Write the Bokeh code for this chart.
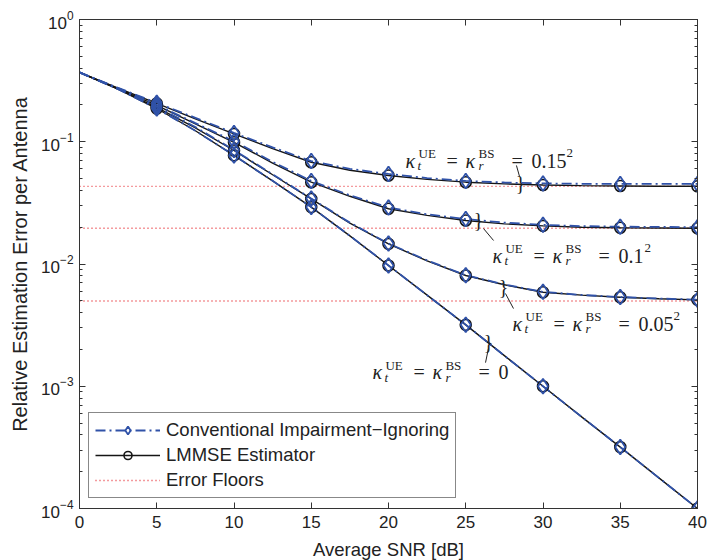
from bokeh.plotting import figure
from bokeh.models import (Range1d, FixedTicker, LinearAxis, LogAxis, Legend, LegendItem,
                          Label, CustomJSTickFormatter)
from bokeh.embed import file_html
from bokeh.resources import INLINE

# ---------------- data ----------------
snr = [0, 2.5, 5, 7.5, 10, 12.5, 15, 17.5, 20, 22.5, 25, 27.5, 30, 32.5, 35, 37.5, 40]

lmmse_k0 = [0.369, 0.269, 0.187, 0.123, 0.0773, 0.0479, 0.0292, 0.0170, 0.00973, 0.00556,
            0.00318, 0.00178, 0.00100, 0.000562, 0.000318, 0.000178, 0.000100]
conv_k0 = [0.369, 0.269, 0.187, 0.123, 0.0773, 0.0479, 0.0292, 0.0170, 0.00973, 0.00556,
           0.00318, 0.00178, 0.00100, 0.000562, 0.000318, 0.000178, 0.000100]

lmmse_k005 = [0.369, 0.270, 0.191, 0.130, 0.0848, 0.0537, 0.0341, 0.0216, 0.0146, 0.0106,
              0.00805, 0.00676, 0.00588, 0.00556, 0.00535, 0.00520, 0.00509]
conv_k005 = [0.369, 0.271, 0.193, 0.132, 0.0855, 0.0541, 0.0343, 0.0218, 0.0147, 0.0107,
             0.00810, 0.00680, 0.00592, 0.00558, 0.00537, 0.00522, 0.00511]

lmmse_k01 = [0.369, 0.272, 0.198, 0.140, 0.0990, 0.0670, 0.0467, 0.0358, 0.0283, 0.0250,
             0.0227, 0.0213, 0.0205, 0.0200, 0.0198, 0.0197, 0.0196]
conv_k01 = [0.369, 0.273, 0.200, 0.142, 0.101, 0.0685, 0.0478, 0.0365, 0.0290, 0.0255,
            0.0233, 0.0218, 0.0209, 0.0204, 0.0202, 0.0201, 0.0200]

lmmse_k015 = [0.369, 0.275, 0.206, 0.154, 0.116, 0.088, 0.068, 0.0585, 0.0530, 0.0492,
              0.0467, 0.0452, 0.0443, 0.0438, 0.0435, 0.0433, 0.0432]
conv_k015 = [0.369, 0.276, 0.208, 0.157, 0.118, 0.090, 0.0695, 0.0600, 0.0545, 0.0505,
             0.0478, 0.0464, 0.0456, 0.0453, 0.0452, 0.0452, 0.0452]

floors = [0.0431, 0.0196, 0.00498]

x_ticks = [0, 5, 10, 15, 20, 25, 30, 35, 40]
y_ticks = [1e-4, 1e-3, 1e-2, 1e-1, 1e0]

legend_labels = ["Conventional Impairment\u2212Ignoring", "LMMSE Estimator", "Error Floors"]
curve_values = ["0", "0.05", "0.1", "0.15"]

# ---------------- style ----------------
BLUE = "#3052a8"
BLACK = "#151515"
RED = "#e8363c"
SANS = "Liberation Sans"
SERIF = "Liberation Serif"
TXT = "#222222"

p = figure(x_range=Range1d(0, 40), y_range=Range1d(1e-4, 1), y_axis_type="log",
           frame_width=618, frame_height=489, output_backend="svg", toolbar_location=None,
           min_border_left=79, min_border_top=19, min_border_right=10, min_border_bottom=50,
           background_fill_color="white", border_fill_color="white")
p.grid.visible = False
p.outline_line_color = "#333333"
p.outline_line_width = 1

y_minor = [m * 10.0 ** e for e in range(-4, 0) for m in range(2, 10)]


def style_axis(ax):
    ax.major_tick_in = 6
    ax.major_tick_out = 0
    ax.minor_tick_in = 3
    ax.minor_tick_out = 0
    ax.axis_line_color = "#333333"
    ax.major_tick_line_color = "#333333"
    ax.minor_tick_line_color = "#333333"
    ax.major_label_text_font = SANS
    ax.major_label_text_font_size = "17px"
    ax.major_label_text_color = TXT
    ax.axis_label_text_font = SANS
    ax.axis_label_text_font_style = "normal"
    ax.axis_label_text_color = TXT


p.xaxis.ticker = FixedTicker(ticks=x_ticks)
p.yaxis.ticker = FixedTicker(ticks=y_ticks, minor_ticks=y_minor)
for ax in p.xaxis + p.yaxis:
    style_axis(ax)
p.xaxis.major_label_standoff = 7
p.yaxis.major_label_standoff = 6
p.xaxis.axis_label = "Average SNR [dB]"
p.xaxis.axis_label_text_font_size = "18.5px"
p.xaxis.axis_label_standoff = 8
p.yaxis.axis_label = "Relative Estimation Error per Antenna"
p.yaxis.axis_label_text_font_size = "20px"
p.yaxis.axis_label_standoff = 7

empty = CustomJSTickFormatter(code="return ''")
top = LinearAxis(ticker=FixedTicker(ticks=x_ticks), formatter=empty)
right = LogAxis(ticker=FixedTicker(ticks=y_ticks, minor_ticks=y_minor), formatter=empty)
style_axis(top)
style_axis(right)
top.major_label_standoff = 0
right.major_label_standoff = 0
p.add_layout(top, "above")
p.add_layout(right, "right")

# ---------------- curves ----------------
mx = snr[2::2]
floor_r = []
for f in floors:
    r = p.line([snr[0], snr[-1]], [f, f], line_color=RED, line_width=1.3, line_dash="1 3")
    floor_r.append(r)

lm_sets = [lmmse_k0, lmmse_k005, lmmse_k01, lmmse_k015]
cv_sets = [conv_k0, conv_k005, conv_k01, conv_k015]
lm_lines, lm_marks, cv_lines, cv_marks = [], [], [], []
for lm in lm_sets:
    lm_lines.append(p.line(snr, lm, line_color=BLACK, line_width=1.4))
for cv in cv_sets:
    cv_lines.append(p.line(snr, cv, line_color=BLUE, line_width=1.8, line_dash="10 4 2 4"))
for lm in lm_sets:
    lm_marks.append(p.scatter(mx, lm[2::2], marker="circle", size=11, fill_color=None,
                              line_color=BLACK, line_width=1.6))
for cv in cv_sets:
    cv_marks.append(p.scatter(mx, cv[2::2], marker="diamond", size=15, fill_color=None,
                              line_color=BLUE, line_width=1.8))

# ---------------- annotations ----------------
def math_label(x, y, val, sup_dx):
    pieces = [("\u03ba", 0, 0, 20, "italic"), ("UE", 13, 7, 13, "normal"), ("t", 12, -5, 13, "italic"),
              ("=", 41, 0, 20, "normal"), ("\u03ba", 60, 0, 20, "italic"), ("BS", 73, 7, 13, "normal"),
              ("r", 73, -5, 13, "italic"), ("=", 106, 0, 20, "normal"), (val, 126, 0, 20, "normal")]
    if sup_dx is not None:
        pieces.append(("2", sup_dx, 8, 13, "normal"))
    for txt, dx, dy, sz, st in pieces:
        p.add_layout(Label(x=x, y=y, x_offset=dx, y_offset=dy, text=txt, text_font=SERIF,
                           text_font_size=f"{sz}px", text_font_style=st, text_color=TXT,
                           text_baseline="alphabetic", text_align="left"))


math_label(21.10, 0.0702, curve_values[3], 161)
math_label(26.73, 0.01173, curve_values[2], 152)
math_label(28.03, 0.00326, curve_values[1], 161)
math_label(18.96, 0.001296, curve_values[0], None)

braces = [(28.54, 0.0464), (25.83, 0.0227), (27.44, 0.00643), (26.47, 0.00228)]
leaders = [((28.28, 0.0640), (28.48, 0.0520)), ((26.15, 0.0195), (26.80, 0.01557)),
           ((27.57, 0.00574), (28.09, 0.00432)), ((26.47, 0.00204), (26.28, 0.00156))]
for bx, by in braces:
    p.add_layout(Label(x=bx, y=by, text="}", text_font=SERIF, text_font_size="20px",
                       text_color=TXT, text_align="center", text_baseline="middle"))
for (x0, y0), (x1, y1) in leaders:
    p.line([x0, x1], [y0, y1], line_color=TXT, line_width=1)

# ---------------- legend ----------------
legend = Legend(items=[
    LegendItem(label=legend_labels[0], renderers=[cv_lines[0], cv_marks[0]]),
    LegendItem(label=legend_labels[1], renderers=[lm_lines[0], lm_marks[0]]),
    LegendItem(label=legend_labels[2], renderers=[floor_r[0]]),
], location=(9, 10))
legend.border_line_color = "#111111"
legend.border_line_width = 1
legend.background_fill_color = "white"
legend.background_fill_alpha = 1
legend.label_text_font = SANS
legend.label_text_font_size = "18.5px"
legend.label_text_color = TXT
legend.glyph_width = 65
legend.glyph_height = 20
legend.label_standoff = 6
legend.spacing = 3
legend.padding = 6
legend.margin = 0
p.add_layout(legend)

open("out.html", "w").write(file_html(p, INLINE))
